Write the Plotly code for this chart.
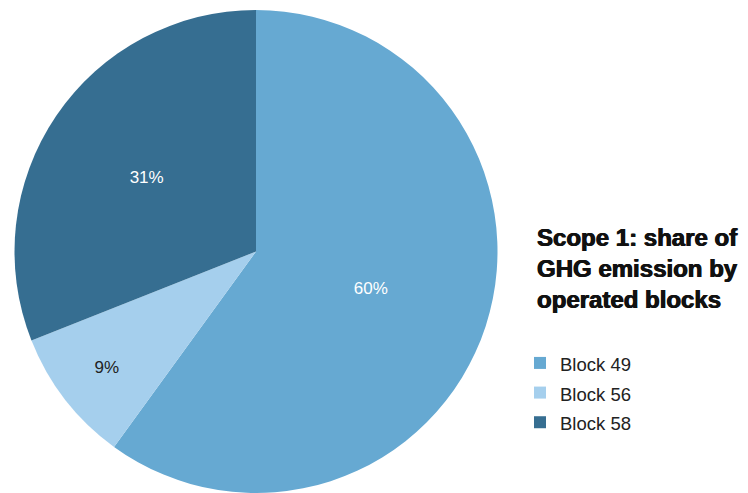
import plotly.graph_objects as go

# Scope 1 GHG emission shares by operated block
blocks = ["Block 49", "Block 56", "Block 58"]
shares = [60, 9, 31]
colors = ["#66a9d2", "#a5cfed", "#366e91"]

title_lines = ["Scope 1: share of", "GHG emission by", "operated blocks"]

W, H = 748, 493
FONT = "Liberation Sans, Arial, sans-serif"

# Legend entries: the larger legend font sets the row pitch, the span sets the glyph size
legend_names = [f'<span style="font-size:18.5px">{b}</span>' for b in blocks]

fig = go.Figure(
    go.Pie(
        labels=legend_names,
        values=shares,
        sort=False,
        direction="clockwise",
        rotation=0,
        marker=dict(colors=colors, line=dict(width=0)),
        texttemplate="%{value}%",
        textposition="inside",
        insidetextorientation="horizontal",
        textfont=dict(family=FONT, size=17,
                      color=["#ffffff", "#222222", "#ffffff"]),
        domain=dict(x=[14 / W, 498 / W], y=[0, 1]),
        hovertemplate="%{value}%<extra></extra>",
    )
)

# Heavy heading beside the pie
fig.add_annotation(
    x=535 / W, y=1 - 216 / H, xref="paper", yref="paper",
    xanchor="left", yanchor="top", align="left", showarrow=False,
    text="<br>".join(f"<b>{t}</b>" for t in title_lines),
    font=dict(family=FONT, size=24, color="#111111",
              shadow="0.6px 0 0 #111111, -0.4px 0 0 #111111"),
)

fig.update_layout(
    width=W, height=H,
    margin=dict(l=0, r=0, t=10, b=0),
    paper_bgcolor="white",
    plot_bgcolor="white",
    showlegend=True,
    legend=dict(
        x=520 / W, y=1 - 340 / H, xanchor="left", yanchor="top",
        font=dict(family=FONT, size=20.5, color="#222222"),
        itemwidth=30,
        bgcolor="rgba(0,0,0,0)",
    ),
)

fig.write_html("out.html")
